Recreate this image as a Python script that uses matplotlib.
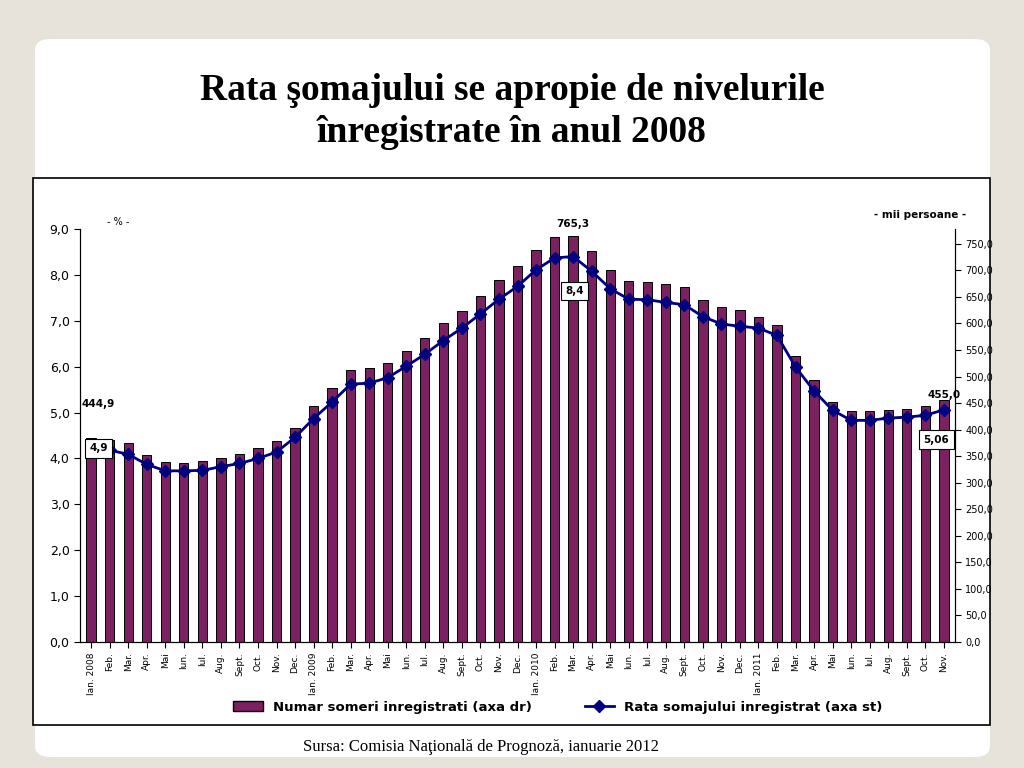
import matplotlib
matplotlib.use("Agg")
import matplotlib.pyplot as plt
from matplotlib.patches import FancyBboxPatch, Rectangle
from matplotlib.lines import Line2D

months = ["Ian. 2008","Feb.","Mar.","Apr.","Mai","Iun.","Iul.","Aug.","Sept.","Oct.","Nov.","Dec.",
          "Ian. 2009","Feb.","Mar.","Apr.","Mai","Iun.","Iul.","Aug.","Sept.","Oct.","Nov.","Dec.",
          "Ian. 2010","Feb.","Mar.","Apr.","Mai","Iun.","Iul.","Aug.","Sept.","Oct.","Nov.","Dec.",
          "Ian. 2011","Feb.","Mar.","Apr.","Mai","Iun.","Iul.","Aug.","Sept.","Oct.","Nov."]
someri = [384,381,374,352,339,337,341,347,354,365,379,404,
          444,478,513,517,526,548,573,600,624,652,682,708,
          739,762,765.3,737,701,680,679,674,669,645,632,626,
          613,598,539,493,452,436,436,437,439,445,455.0]
rata = [4.27,4.18,4.09,3.87,3.73,3.73,3.74,3.82,3.89,4.00,4.14,4.46,
        4.87,5.23,5.62,5.64,5.76,6.01,6.27,6.57,6.84,7.15,7.47,7.75,
        8.11,8.37,8.40,8.08,7.70,7.47,7.46,7.40,7.35,7.09,6.93,6.88,
        6.84,6.68,5.99,5.47,5.05,4.83,4.83,4.88,4.90,4.94,5.06]
bar_labels = {0: "444,9", 26: "765,3", 46: "455,0"}
rate_labels = {0: "4,9", 26: "8,4", 46: "5,06"}

fig = plt.figure(figsize=(10.24, 7.68), dpi=100)
fig.patch.set_facecolor("#e8e3da")
fig.patches.append(FancyBboxPatch((35/1024, 11/768), 955/1024, 718/768,
    boxstyle="round,pad=0,rounding_size=0.015", transform=fig.transFigure,
    facecolor="white", edgecolor="none", zorder=-2))
fig.patches.append(Rectangle((33/1024, 43/768), 957/1024, 547/768, transform=fig.transFigure,
    facecolor="white", edgecolor="black", lw=1.2, zorder=-1))
fig.text(0.5, 0.855, "Rata şomajului se apropie de nivelurile\nînregistrate în anul 2008",
         ha="center", va="center", fontsize=27, fontweight="bold", family="Liberation Serif",
         linespacing=1.25)
fig.text(0.47, 0.027, "Sursa: Comisia Naţională de Prognoză, ianuarie 2012", ha="center",
         va="center", fontsize=12, family="Liberation Serif")

ax = fig.add_axes([80/1024, 1-642/768, 875/1024, 413/768])
ax2 = ax.twinx()
ax.set_zorder(2); ax2.set_zorder(1)
ax.patch.set_visible(False)
ax2.patch.set_visible(False)
x = list(range(len(months)))
ax2.bar(x, someri, width=0.5, color="#7b2162", edgecolor="black", lw=0.7)
ax.plot(x, rata, color="#000080", lw=2, marker="D", ms=6)
ax.set_xlim(-0.6, len(months)-0.4)
ax.set_ylim(0, 9)
ax2.set_ylim(0, 778)
ax.set_yticks([i for i in range(10)])
ax.set_yticklabels([f"{i},0" for i in range(10)], fontsize=9)
ax2.set_yticks(list(range(0, 751, 50)))
ax2.set_yticklabels([f"{v},0" for v in range(0, 751, 50)], fontsize=7)
ax.set_xticks(x)
ax.set_xticklabels(months, rotation=90, fontsize=6.5)
for a in (ax, ax2):
    a.spines["top"].set_visible(False)
    a.tick_params(length=4, direction="out")

for i, t in bar_labels.items():
    ax2.text(i + (0.4 if i == 0 else 0), someri[i] + (55 if i == 0 else 12) - (12 if i == 46 else 0),
             t, ha="center", va="bottom", fontsize=7.5, fontweight="bold")
offs = {0: (0.4, -0.05), 26: (0.1, -0.75), 46: (-0.4, -0.65)}
for i, t in rate_labels.items():
    dx, dy = offs[i]
    ax.text(i + dx, rata[i] + dy, t, ha="center", va="center", fontsize=7.5, fontweight="bold",
            bbox=dict(facecolor="white", edgecolor="black", lw=0.8, pad=3), zorder=5)

fig.text(118/1024, 1-222/768, "- % -", ha="center", va="center", fontsize=7)
fig.text(920/1024, 1-215/768, "- mii persoane -", ha="center", va="center", fontsize=7.5,
         fontweight="bold")

handles = [Rectangle((0, 0), 1, 1, facecolor="#7b2162", edgecolor="black"),
           Line2D([], [], color="#000080", lw=2, marker="D", ms=6)]
fig.legend(handles, ["Numar someri inregistrati (axa dr)", "Rata somajului inregistrat (axa st)"],
           loc="center", bbox_to_anchor=(0.545, 1-707/768), ncol=2, frameon=False,
           prop={"weight": "bold", "size": 9.5}, columnspacing=4, handlelength=2.2)
fig.savefig("out.png", dpi=100, facecolor=fig.get_facecolor())
